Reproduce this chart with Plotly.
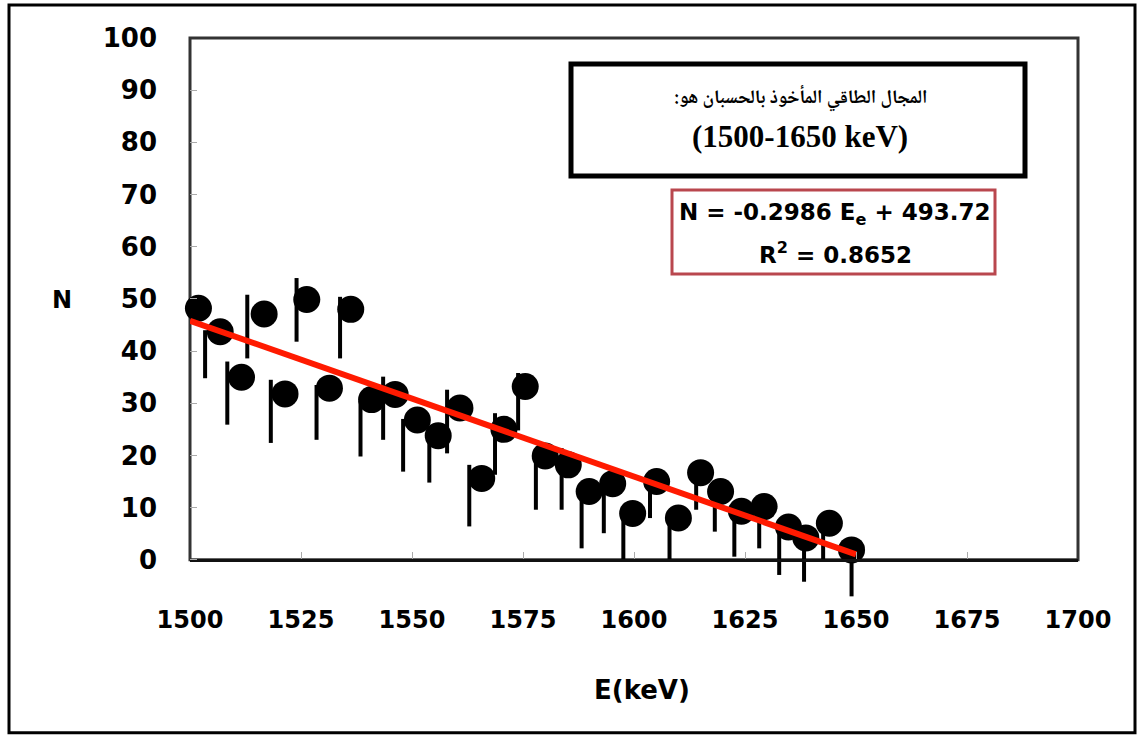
import plotly.graph_objects as go

# ---------------- data ----------------
energy = [1501.9, 1506.8, 1511.6, 1516.7, 1521.4, 1526.3, 1531.4, 1536.2, 1540.9, 1546.2,
          1551.2, 1555.9, 1560.8, 1565.7, 1570.7, 1575.5, 1580.0, 1585.2, 1589.9, 1595.2,
          1599.7, 1605.1, 1610.0, 1615.0, 1619.5, 1624.2, 1629.3, 1634.8, 1638.7, 1644.0,
          1649.0]
counts = [48.2, 43.7, 35.0, 47.1, 31.8, 49.9, 32.9, 48.0, 30.7, 31.7,
          26.8, 23.8, 29.1, 15.6, 25.0, 33.2, 19.9, 18.2, 13.1, 14.6,
          8.9, 15.0, 8.0, 16.7, 13.1, 9.3, 10.2, 6.3, 4.2, 7.0,
          1.9]
# vertical uncertainty sticks (drawn slightly left of each point in the reference)
err_energy = [1498.5, 1503.4, 1508.4, 1512.9, 1518.2, 1524.0, 1528.5, 1533.8, 1538.4, 1543.5,
              1548.0, 1553.9, 1557.9, 1562.9, 1568.7, 1573.9, 1577.9, 1583.7, 1588.2, 1593.2,
              1597.6, 1603.6, 1608.0, 1614.0, 1618.2, 1622.6, 1628.2, 1632.7, 1638.3, 1642.6,
              1649.0]
err_top = [50.6, 44.0, 38.0, 50.8, 34.5, 54.0, 33.5, 50.4, 30.5, 35.1,
           27.0, 24.0, 32.6, 18.2, 28.1, 35.8, 20.0, 21.4, 13.0, 14.6,
           9.0, 15.0, 8.0, 16.7, 13.0, 9.3, 10.2, 6.3, 4.2, 7.0,
           1.9]
err_bottom = [38.4, 34.8, 25.9, 38.6, 22.4, 41.8, 23.0, 38.6, 19.8, 23.0,
              16.9, 14.8, 20.4, 6.4, 16.3, 24.8, 9.6, 9.6, 2.2, 5.1,
              0.0, 8.0, -0.3, 9.6, 5.4, 0.6, 2.2, -2.9, -4.2, -0.3,
              -7.0]
# linear fit shown on the chart
fit_slope = -0.2986
fit_intercept = 493.72
fit_range = [1500, 1650]

x_ticks = [1500, 1525, 1550, 1575, 1600, 1625, 1650, 1675, 1700]
y_ticks = [0, 10, 20, 30, 40, 50, 60, 70, 80, 90, 100]

title_ar = "المجال الطاقي المأخوذ بالحسبان هو:\u200f"
title_range = "(1500-1650 keV)"
eq_text = "N = -0.2986 E<sub>e</sub> + 493.72"
r2_text = "R<sup>2</sup> = 0.8652"

# ---------------- layout geometry ----------------
W, H = 1138, 737
L, R, T = 190, 1078, 38
Y0_PX = 560                     # pixel row of N = 0 (visible axis line)
PX_PER_UNIT = (Y0_PX - T) / 100.0
Y_LOW = -10                     # extra room below zero so long sticks are not clipped
B = Y0_PX - Y_LOW * PX_PER_UNIT  # bottom of the (invisible) plotting area


def px(x):
    return (x - L) / (R - L)


def py(y):
    return (B - y) / (B - T)


SANS = "DejaVu Sans"
SERIF = "Liberation Serif, Times New Roman, DejaVu Serif, DejaVu Sans"
ARABIC = "Noto Naskh Arabic, Noto Sans Arabic, DejaVu Sans"

fig = go.Figure()

# error sticks
fig.add_trace(go.Scatter(
    x=err_energy,
    y=err_top,
    mode="markers",
    marker=dict(size=1, color="rgba(0,0,0,0)"),
    error_y=dict(
        type="data",
        symmetric=False,
        array=[0] * len(err_top),
        arrayminus=[t - b for t, b in zip(err_top, err_bottom)],
        color="black",
        thickness=4,
        width=0,
    ),
    hoverinfo="skip",
    showlegend=False,
))

# data points
fig.add_trace(go.Scatter(
    x=energy,
    y=counts,
    mode="markers",
    marker=dict(size=27, color="black"),
    cliponaxis=False,
    showlegend=False,
))

# fitted line
fit_y = [fit_slope * e + fit_intercept for e in fit_range]
fig.add_trace(go.Scatter(
    x=fit_range,
    y=fit_y,
    mode="lines",
    line=dict(color="#ff1a00", width=6),
    showlegend=False,
))

fig.update_layout(
    template="none",
    width=W,
    height=H,
    margin=dict(l=L, r=W - R, t=T, b=H - B, pad=0),
    paper_bgcolor="white",
    plot_bgcolor="white",
    showlegend=False,
    xaxis=dict(
        range=[1500, 1700],
        tickvals=x_ticks,
        ticktext=[str(v) for v in x_ticks],
        anchor="free",
        position=py(Y0_PX),
        showgrid=False,
        zeroline=False,
        showline=True,
        linecolor="#111111",
        linewidth=3,
        ticks="inside",
        ticklen=7,
        tickwidth=1,
        tickcolor="#aaaaaa",
        tickfont=dict(family=SANS, size=24, color="black", weight="bold"),
        ticklabelstandoff=37,
        automargin=False,
    ),
    yaxis=dict(
        range=[Y_LOW, 100],
        tickvals=y_ticks,
        ticktext=[str(v) for v in y_ticks],
        showgrid=False,
        zeroline=False,
        showline=False,
        ticks="inside",
        ticklen=7,
        tickwidth=1,
        tickcolor="#aaaaaa",
        tickfont=dict(family=SANS, size=26, color="black", weight="bold"),
        ticklabelstandoff=32,
        automargin=False,
    ),
)

shapes = [
    # plot-area frame (N from 0 to 100)
    dict(type="rect", xref="paper", yref="paper",
         x0=px(L), x1=px(R), y0=py(Y0_PX), y1=py(T),
         line=dict(color="#333333", width=3), fillcolor="rgba(0,0,0,0)", layer="below"),
    # outer frame
    dict(type="rect", xref="paper", yref="paper",
         x0=px(9), x1=px(1135), y0=py(733), y1=py(5),
         line=dict(color="black", width=3), fillcolor="rgba(0,0,0,0)", layer="above"),
    # black title box
    dict(type="rect", xref="paper", yref="paper",
         x0=px(571), x1=px(1025), y0=py(176), y1=py(64),
         line=dict(color="black", width=5), fillcolor="white", layer="above"),
    # red equation box
    dict(type="rect", xref="paper", yref="paper",
         x0=px(672), x1=px(995), y0=py(274), y1=py(190),
         line=dict(color="#b9474e", width=3), fillcolor="white", layer="above"),
]
fig.update_layout(shapes=shapes)

annotations = [
    dict(text="N", x=px(62), y=py(300), font=dict(family=SANS, size=24, color="black", weight="bold")),
    dict(text="E(keV)", x=px(642), y=py(690), font=dict(family=SANS, size=26, color="black", weight="bold")),
    dict(text=title_ar, x=px(800), y=py(99), font=dict(family=ARABIC, size=19, color="black", weight="bold")),
    dict(text=title_range, x=px(800), y=py(137), font=dict(family=SERIF, size=31, color="black", weight="bold")),
    dict(text=eq_text, x=px(835), y=py(214), font=dict(family=SANS, size=23, color="black", weight="bold")),
    dict(text=r2_text, x=px(835), y=py(253), font=dict(family=SANS, size=23, color="black", weight="bold")),
]
for a in annotations:
    a.update(xref="paper", yref="paper", showarrow=False, xanchor="center", yanchor="middle")
fig.update_layout(annotations=annotations)

fig.write_html("out.html")
